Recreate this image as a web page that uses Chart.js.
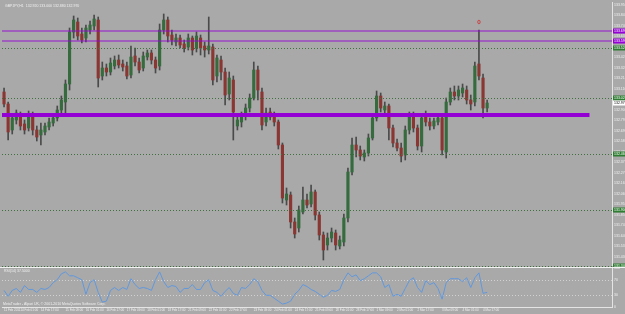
<!DOCTYPE html>
<html>
<head>
<meta charset="utf-8">
<script src="https://cdn.jsdelivr.net/npm/chart.js@4.4.1/dist/chart.umd.min.js"></script>
<style>
    html, body { margin: 0; padding: 0; background: #a9a9a9; }
    #wrap { position: relative; width: 625px; height: 314px; overflow: hidden; }
    canvas { position: absolute; left: 0; }
    #priceChart { top: 0; }
    #rsiChart { top: 267px; }
</style>
</head>
<body>
<div id="wrap">
    <canvas id="priceChart" width="625" height="267"></canvas>
    <canvas id="rsiChart" width="625" height="47"></canvas>
</div>
<script>
// GBPJPY H1, 11 Feb - 4 Mar 2011 (one candle here ~ 3 hours)
const opens = [
    133.08, 132.96, 132.70, 132.80, 132.86, 132.76, 132.72, 132.85, 132.70, 132.65,
    132.68, 132.73, 132.77, 132.82, 132.90, 132.98, 133.16, 133.68, 133.78, 133.66,
    133.62, 133.70, 133.74, 133.80, 133.24, 133.32, 133.28, 133.34, 133.40, 133.36,
    133.34, 133.25, 133.44, 133.38, 133.32, 133.43, 133.47, 133.40, 133.34, 133.70,
    133.80, 133.65, 133.58, 133.62, 133.56, 133.53, 133.62, 133.52, 133.62, 133.54,
    133.50, 133.53, 133.24, 133.40, 133.28, 133.06, 133.20, 132.74, 132.78, 132.84,
    132.92, 133.02, 133.30, 133.08, 132.78, 132.88, 132.84, 132.78, 132.55, 132.00,
    132.05, 131.78, 131.72, 131.88, 132.00, 131.96, 132.08, 131.85, 131.65, 131.55,
    131.62, 131.67, 131.54, 131.58, 131.82, 132.28, 132.55, 132.50, 132.43, 132.47,
    132.62, 132.82, 133.04, 132.90, 132.94, 132.72, 132.57, 132.52, 132.45, 132.70,
    132.84, 132.72, 132.54, 132.84, 132.78, 132.74, 132.78, 132.82, 132.48, 132.98,
    133.08, 133.04, 133.07, 133.10, 133.00, 132.98, 133.36, 133.22, 132.92
];
const highs = [
    133.12, 132.98, 132.86, 132.90, 132.88, 132.80, 132.89, 132.88, 132.74, 132.77,
    132.77, 132.82, 132.86, 132.94, 133.04, 133.20, 133.72, 133.84, 133.82, 133.72,
    133.75, 133.79, 133.85, 133.83, 133.38, 133.36, 133.42, 133.44, 133.45, 133.40,
    133.38, 133.54, 133.52, 133.42, 133.48, 133.50, 133.50, 133.43, 133.76, 133.86,
    133.83, 133.70, 133.66, 133.65, 133.60, 133.66, 133.64, 133.68, 133.65, 133.58,
    133.83, 133.56, 133.45, 133.44, 133.32, 133.28, 133.24, 132.84, 132.88, 132.96,
    133.06, 133.38, 133.34, 133.12, 132.92, 132.92, 132.88, 132.80, 132.57, 132.12,
    132.08, 131.82, 131.94, 132.13, 132.06, 132.15, 132.10, 131.88, 131.68, 131.67,
    131.72, 131.70, 131.64, 131.86, 132.32, 132.62, 132.63, 132.54, 132.50, 132.66,
    132.86, 133.09, 133.07, 132.98, 132.96, 132.75, 132.61, 132.57, 132.74, 132.88,
    132.88, 132.75, 132.86, 132.89, 132.82, 132.82, 132.85, 132.85, 133.02, 133.12,
    133.14, 133.14, 133.16, 133.14, 133.05, 133.38, 133.70, 133.26, 133.00
];
const lows = [
    132.93, 132.60, 132.66, 132.76, 132.70, 132.66, 132.69, 132.65, 132.59, 132.55,
    132.65, 132.70, 132.74, 132.79, 132.86, 132.87, 133.10, 133.62, 133.60, 133.57,
    133.58, 133.66, 133.70, 133.13, 133.20, 133.24, 133.25, 133.31, 133.32, 133.29,
    133.21, 133.22, 133.34, 133.27, 133.29, 133.40, 133.36, 133.27, 133.30, 133.66,
    133.58, 133.55, 133.54, 133.52, 133.48, 133.50, 133.45, 133.48, 133.45, 133.43,
    133.46, 133.15, 133.18, 133.20, 132.95, 133.00, 132.60, 132.70, 132.73, 132.80,
    132.88, 133.00, 133.00, 132.70, 132.74, 132.80, 132.74, 132.51, 131.97, 131.95,
    131.72, 131.62, 131.68, 131.86, 131.92, 131.93, 131.80, 131.60, 131.40, 131.50,
    131.58, 131.50, 131.51, 131.54, 131.78, 132.25, 132.43, 132.40, 132.39, 132.44,
    132.60, 132.79, 132.88, 132.84, 132.60, 132.53, 132.49, 132.38, 132.40, 132.66,
    132.68, 132.50, 132.48, 132.74, 132.70, 132.71, 132.75, 132.45, 132.42, 132.95,
    133.00, 133.00, 133.03, 132.96, 132.90, 132.94, 133.20, 132.82, 132.88
];
const closes = [
    132.96, 132.68, 132.82, 132.87, 132.74, 132.70, 132.86, 132.70, 132.63, 132.70,
    132.74, 132.78, 132.82, 132.90, 133.00, 133.16, 133.68, 133.80, 133.64, 133.60,
    133.72, 133.75, 133.81, 133.22, 133.32, 133.28, 133.37, 133.40, 133.35, 133.33,
    133.24, 133.43, 133.38, 133.30, 133.44, 133.47, 133.40, 133.32, 133.70, 133.80,
    133.64, 133.60, 133.62, 133.55, 133.52, 133.62, 133.50, 133.64, 133.52, 133.50,
    133.54, 133.20, 133.42, 133.28, 133.05, 133.22, 132.88, 132.80, 132.85, 132.92,
    133.02, 133.30, 133.10, 132.75, 132.87, 132.83, 132.78, 132.55, 132.02, 132.06,
    131.78, 131.66, 131.90, 132.00, 131.95, 132.08, 131.85, 131.65, 131.50, 131.62,
    131.68, 131.55, 131.60, 131.82, 132.28, 132.55, 132.50, 132.44, 132.47, 132.62,
    132.82, 133.04, 132.92, 132.94, 132.72, 132.57, 132.52, 132.44, 132.70, 132.84,
    132.72, 132.54, 132.82, 132.78, 132.74, 132.79, 132.82, 132.50, 132.98, 133.08,
    133.04, 133.10, 133.12, 133.00, 132.96, 133.34, 133.24, 132.92, 132.97
];
const rsiValues = [
    42.5, 27.5, 42.5, 47.5, 37.5, 55, 45, 45, 37.5, 47.5,
    45, 50, 62.5, 70, 85, 90, 80, 80, 75, 70,
    32.5, 62.5, 70, 37.5, 12.5, 15, 42.5, 50, 42.5, 50,
    45, 72.5, 57.5, 47.5, 50, 47.5, 42.5, 70, 90, 65,
    50, 55, 52.5, 37.5, 47.5, 47.5, 57.5, 45, 45, 62.5,
    70, 42.5, 37.5, 27.5, 40, 50, 35, 30, 50, 47.5,
    57.5, 72.5, 65, 42.5, 30, 30, 22.5, 15, 7.5, 10,
    15, 32.5, 42.5, 57.5, 52.5, 45, 40, 32.5, 25, 30,
    42.5, 40, 45, 70, 87.5, 77.5, 82.5, 67.5, 72.5, 80,
    87.5, 87.5, 77.5, 50, 57.5, 27.5, 32.5, 27.5, 47.5, 67.5,
    75, 50, 37.5, 67.5, 57.5, 62.5, 47.5, 20, 62.5, 72.5,
    72.5, 72.5, 65, 75, 50, 75, 87.5, 35, 37.5
];

// price scale
const priceMin = 131.35;
const priceMax = 133.98;
const priceTicks = [
    133.950, 133.845, 133.740, 133.635, 133.530, 133.425, 133.320, 133.215, 133.110,
    133.005, 132.900, 132.795, 132.690, 132.585, 132.480, 132.375, 132.270, 132.165,
    132.060, 131.955, 131.850, 131.745, 131.640, 131.535, 131.430
];

// drawn objects
const violetLevels = [133.69, 133.59];
const trendLevel = 132.85;
const trendEndSlot = 143;
const greenLevels = [133.52, 133.02, 132.46, 131.90, 131.34];
const lastPrice = 132.97;
const arrowSlot = 116;
const arrowPrice = 133.78;

// time axis (slots shown in the window, label every 16 bars)
const totalSlots = 149;
const timeLabels = [
    "11 Feb 2011", "14 Feb 01:00", "14 Feb 17:00", "15 Feb 09:00", "16 Feb 01:00", "16 Feb 17:00",
    "17 Feb 09:00", "18 Feb 01:00", "18 Feb 17:00", "21 Feb 09:00", "22 Feb 01:00", "22 Feb 17:00",
    "23 Feb 09:00", "24 Feb 01:00", "24 Feb 17:00", "25 Feb 09:00", "28 Feb 01:00", "28 Feb 17:00",
    "1 Mar 09:00", "2 Mar 01:00", "2 Mar 17:00", "3 Mar 09:00", "4 Mar 01:00", "4 Mar 17:00"
];
const timeSlots = [0, 4, 9, 15, 20, 25, 30, 35, 40, 45, 50, 55, 61, 66, 71, 76, 81, 86, 91, 96, 101, 107, 112, 117];

const rsiTicks = [0, 30, 70, 100];
const rsiLevels = [30, 70];

const titleText = "GBPJPY,H1  132.920 133.000 132.880 132.970";
const rsiTitle = "RSI(14) 37.5000";
const footerText = "MetaTrader - Alpari UK, \u00A9 2001-2010 MetaQuotes Software Corp.";

// colours
const UP = "#356b3d";
const DOWN = "#8a3632";
const WICK = "#4a4a4a";
const VIOLET = "#9400d3";
const GREEN_LINE = "#3f6e3f";
const GREEN_BOX = "#2f7d32";
const TEXT = "#f0f0f0";
const AXIS_LINE = "#e4e4e4";
const RSI_BLUE = "#6098de";
const FONT = "'Liberation Sans', Arial, sans-serif";

const slotLabels = Array.from({ length: totalSlots }, () => "");
timeSlots.forEach((s, i) => { slotLabels[s] = timeLabels[i]; });

document.addEventListener("DOMContentLoaded", () => {
    drawPriceChart();
    drawRsiChart();
});

function hLine(ctx, x1, x2, y) {
    ctx.beginPath();
    ctx.moveTo(x1, y);
    ctx.lineTo(x2, y);
    ctx.stroke();
}

function priceBox(ctx, area, y, value, fill, color) {
    ctx.fillStyle = fill;
    ctx.fillRect(area.right + 1, y - 2.5, 13, 5);
    ctx.fillStyle = color;
    ctx.font = `3.5px ${FONT}`;
    ctx.textBaseline = "middle";
    ctx.textAlign = "left";
    ctx.fillText(value.toFixed(3), area.right + 2, y);
}

// levels, boxes and title on the price window
const objectsPlugin = {
    id: "objects",
    afterDatasetsDraw(chart) {
        const { ctx, chartArea, scales } = chart;
        const y = scales.y;
        ctx.save();

        ctx.strokeStyle = GREEN_LINE;
        ctx.lineWidth = 1;
        ctx.setLineDash([1, 2]);
        greenLevels.forEach(p => hLine(ctx, chartArea.left, chartArea.right, Math.round(y.getPixelForValue(p)) + 0.5));
        ctx.setLineDash([]);

        ctx.strokeStyle = VIOLET;
        ctx.globalAlpha = 0.6;
        ctx.lineWidth = 1.6;
        violetLevels.forEach(p => hLine(ctx, chartArea.left, chartArea.right, y.getPixelForValue(p)));
        ctx.globalAlpha = 1;
        ctx.lineWidth = 4;
        hLine(ctx, chartArea.left, scales.x.getPixelForValue(trendEndSlot), y.getPixelForValue(trendLevel));

        // arrow mark above the spike
        const ax = scales.x.getPixelForValue(arrowSlot);
        const ay = y.getPixelForValue(arrowPrice);
        ctx.strokeStyle = "#d03030";
        ctx.lineWidth = 0.8;
        ctx.beginPath();
        ctx.ellipse(ax, ay, 1.2, 1.8, 0, 0, Math.PI * 2);
        ctx.stroke();
        ctx.restore();
    },
    afterDraw(chart) {
        const { ctx, chartArea, scales } = chart;
        const y = scales.y;
        ctx.save();
        violetLevels.forEach(p => priceBox(ctx, chartArea, y.getPixelForValue(p), p, VIOLET, "#ffffff"));
        greenLevels.forEach(p => priceBox(ctx, chartArea, y.getPixelForValue(p), p, GREEN_BOX, "#ffffff"));
        priceBox(ctx, chartArea, y.getPixelForValue(lastPrice), lastPrice, "#ffffff", "#000000");

        ctx.fillStyle = TEXT;
        ctx.font = `3.5px ${FONT}`;
        ctx.textAlign = "left";
        ctx.textBaseline = "middle";
        ctx.fillText(titleText, chartArea.left + 3, chartArea.top + 4);
        ctx.restore();
    }
};

function drawPriceChart() {
    const ctx = document.getElementById("priceChart");
    const bodyColors = opens.map((o, i) => closes[i] >= o ? UP : DOWN);

    new Chart(ctx, {
        type: "bar",
        data: {
            labels: slotLabels,
            datasets: [
                {
                    label: "body",
                    data: opens.map((o, i) => [o, closes[i]]),
                    backgroundColor: bodyColors,
                    borderWidth: 0,
                    barThickness: 2.5,
                    grouped: false,
                    order: 1
                },
                {
                    label: "wick",
                    data: lows.map((l, i) => [l, highs[i]]),
                    backgroundColor: WICK,
                    borderWidth: 0,
                    barThickness: 1,
                    grouped: false,
                    order: 2
                }
            ]
        },
        options: {
            responsive: false,
            animation: false,
            events: [],
            layout: { padding: { left: 2, top: 2, right: 0, bottom: 2 } },
            plugins: { legend: { display: false }, tooltip: { enabled: false } },
            scales: {
                x: { display: false, offset: true },
                y: {
                    position: "right",
                    min: priceMin,
                    max: priceMax,
                    afterBuildTicks: s => { s.ticks = priceTicks.map(v => ({ value: v })); },
                    afterFit: s => { s.width = 13; s.paddingTop = 0; s.paddingBottom = 0; },
                    grid: { display: false, drawTicks: false },
                    border: { display: true, color: AXIS_LINE, width: 1 },
                    ticks: {
                        padding: 2,
                        color: TEXT,
                        font: { size: 3.5, family: FONT },
                        callback: v => Number(v).toFixed(3)
                    }
                }
            }
        },
        plugins: [objectsPlugin]
    });
}

// RSI window: level lines, captions, separator
const rsiPlugin = {
    id: "rsiDecor",
    beforeDatasetsDraw(chart) {
        const { ctx, chartArea, scales } = chart;
        ctx.save();
        ctx.strokeStyle = "#d2d2d2";
        ctx.lineWidth = 1;
        ctx.setLineDash([1, 2]);
        rsiLevels.forEach(v => hLine(ctx, chartArea.left, chartArea.right, Math.round(scales.y.getPixelForValue(v)) + 0.5));
        ctx.restore();
    },
    afterDraw(chart) {
        const { ctx, chartArea } = chart;
        ctx.save();
        ctx.strokeStyle = "#f4f4f4";
        ctx.lineWidth = 1;
        hLine(ctx, 0, chart.width, 0.5);

        ctx.fillStyle = TEXT;
        ctx.font = `3.5px ${FONT}`;
        ctx.textAlign = "left";
        ctx.textBaseline = "middle";
        ctx.fillText(rsiTitle, chartArea.left + 2, chartArea.top + 3);
        ctx.fillText(footerText, chartArea.left + 1, chartArea.bottom - 2.5);
        ctx.restore();
    }
};

function drawRsiChart() {
    const ctx = document.getElementById("rsiChart");

    new Chart(ctx, {
        type: "line",
        data: {
            labels: slotLabels,
            datasets: [{
                label: "RSI(14)",
                data: rsiValues,
                borderColor: RSI_BLUE,
                borderWidth: 1,
                pointRadius: 0,
                tension: 0
            }]
        },
        options: {
            responsive: false,
            animation: false,
            events: [],
            layout: { padding: { left: 2, top: 1, right: 0, bottom: 0 } },
            plugins: { legend: { display: false }, tooltip: { enabled: false } },
            scales: {
                x: {
                    offset: true,
                    afterFit: s => { s.height = 7; s.paddingLeft = 0; s.paddingRight = 0; },
                    grid: { display: false, drawTicks: false },
                    border: { display: true, color: AXIS_LINE, width: 1 },
                    ticks: {
                        autoSkip: false,
                        maxRotation: 0,
                        align: "start",
                        padding: 1.5,
                        color: TEXT,
                        font: { size: 3, family: FONT },
                        callback: (v, i) => slotLabels[i]
                    }
                },
                y: {
                    position: "right",
                    min: 0,
                    max: 100,
                    afterBuildTicks: s => { s.ticks = rsiTicks.map(v => ({ value: v })); },
                    afterFit: s => { s.width = 13; s.paddingTop = 0; s.paddingBottom = 0; },
                    grid: { display: false, drawTicks: false },
                    border: { display: true, color: AXIS_LINE, width: 1 },
                    ticks: {
                        padding: 2,
                        color: TEXT,
                        font: { size: 3.5, family: FONT }
                    }
                }
            }
        },
        plugins: [rsiPlugin]
    });
}
</script>
</body>
</html>
